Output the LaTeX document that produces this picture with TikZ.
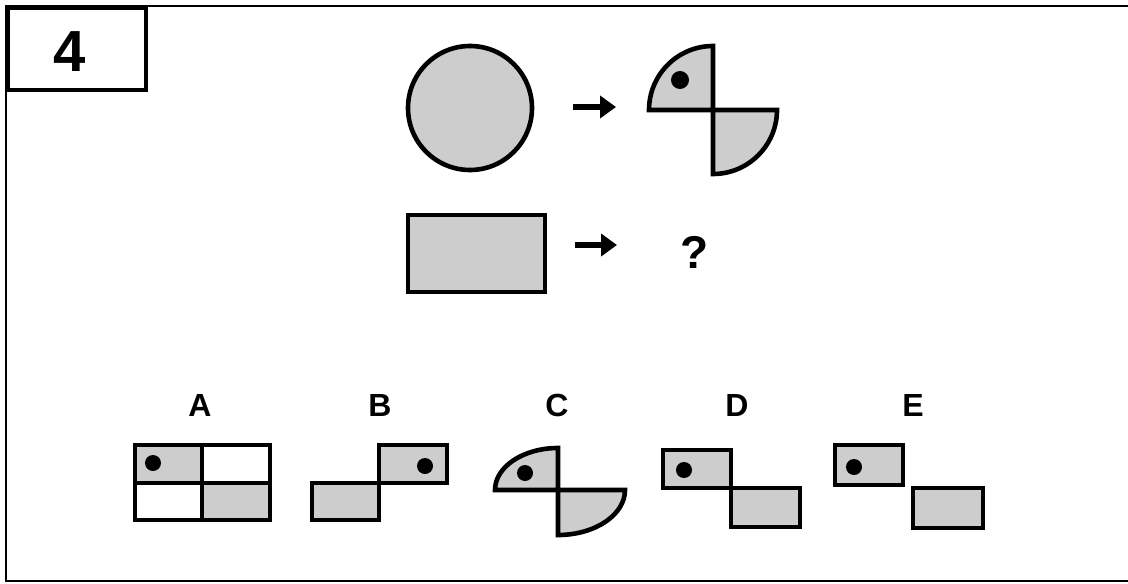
\documentclass[tikz,border=0pt]{standalone}
\usepackage{fontspec}
\setmainfont{Liberation Sans}
\usetikzlibrary{arrows.meta}
\definecolor{figG}{RGB}{205,205,205}

\begin{document}
\begin{tikzpicture}[x=0.5pt,y=-0.5pt,
  tile/.style={draw=black,line width=2.3pt,fill=figG},
  blank/.style={draw=black,line width=2.3pt,fill=white},
  pip/.style={fill=black},
  lbl/.style={font=\bfseries\fontsize{16}{18}\selectfont,inner sep=0pt},
  >={Triangle[length=8pt,width=11pt]}]
\useasboundingbox (0,0) rectangle (1128,583);
% frame, open on the right
\draw[line width=1.3pt] (1128,6)--(6,6)--(6,581)--(1128,581);
\draw[line width=2pt] (8,8) rectangle (146,90);
\node[font=\bfseries\fontsize{29}{32}\selectfont,inner sep=0pt] (num) at (70,52) {4};
% circle -> two quarters
\draw[tile] (470,108) circle[radius=62];
\coordinate (a1) at (573,107); \coordinate (b1) at (616,107);
\draw[->,line width=3pt] (a1)--(b1);
\draw[tile] (713,110)--(649,110) arc[start angle=180,end angle=270,radius=64]--cycle;
\draw[tile] (713,110)--(777,110) arc[start angle=0,end angle=90,radius=64]--cycle;
\fill[pip] (680,80) circle[radius=9];
% rectangle -> ?
\draw[tile] (408,215) rectangle (545,292);
\coordinate (a2) at (575,245); \coordinate (b2) at (617,245);
\draw[->,line width=3pt] (a2)--(b2);
\node[font=\bfseries\fontsize{23}{26}\selectfont,inner sep=0pt] (q) at (695,252) {?};
% answers
\foreach \l/\x in {A/200,B/380,C/557,D/737,E/913} \node[lbl] (l\l) at (\x,405) {\l};
% A
\draw[tile] (135,445) rectangle (202,483); \draw[blank] (202,445) rectangle (270,483);
\draw[blank] (135,483) rectangle (202,520); \draw[tile] (202,483) rectangle (270,520);
\fill[pip] (153,463) circle[radius=8];
% B
\draw[tile] (379,445) rectangle (447,483); \draw[tile] (312,483) rectangle (379,520);
\fill[pip] (425,466) circle[radius=8];
% C
\draw[tile] (558,490)--(495,490) arc[start angle=180,end angle=270,x radius=63,y radius=42]--cycle;
\draw[tile] (558,490)--(625,490) arc[start angle=0,end angle=90,x radius=67,y radius=45]--cycle;
\fill[pip] (525,473) circle[radius=8];
% D
\draw[tile] (663,450) rectangle (731,488); \draw[tile] (731,488) rectangle (800,527);
\fill[pip] (684,470) circle[radius=8];
% E
\draw[tile] (835,445) rectangle (903,485); \draw[tile] (913,488) rectangle (983,528);
\fill[pip] (854,467) circle[radius=8];
\end{tikzpicture}
\end{document}
